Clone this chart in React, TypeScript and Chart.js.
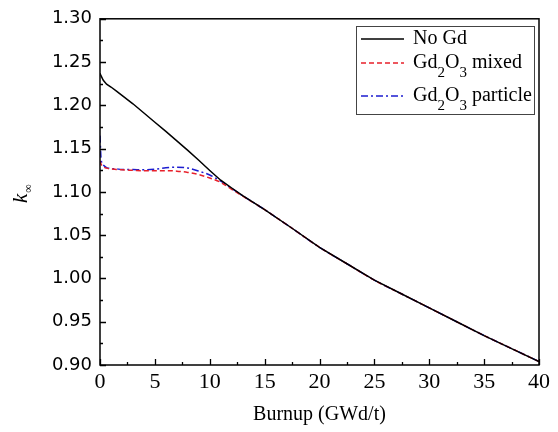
import React, { useEffect, useRef } from "react";
import { Chart, registerables } from "chart.js";

Chart.register(...registerables);

const burnup = [0, 0.1, 0.3, 0.6, 1, 1.5, 2, 3, 4, 5, 6, 7, 8, 9, 10, 11, 12, 13, 14, 15, 17.5, 20, 22.5, 25, 27.5, 30, 32.5, 35, 37.5, 40];
const noGd = [1.237, 1.234, 1.229, 1.2245, 1.2212, 1.2165, 1.2115, 1.2018, 1.1912, 1.1805, 1.17, 1.159, 1.148, 1.1365, 1.1248, 1.1135, 1.1045, 1.0958, 1.0877, 1.0796, 1.058, 1.036, 1.017, 0.998, 0.982, 0.966, 0.95, 0.934, 0.919, 0.904];
const gdMixed = [1.136, 1.132, 1.129, 1.1275, 1.1265, 1.126, 1.1255, 1.125, 1.1245, 1.1245, 1.1245, 1.124, 1.1225, 1.12, 1.116, 1.111, 1.103, 1.095, 1.0875, 1.0795, 1.058, 1.036, 1.017, 0.998, 0.982, 0.966, 0.95, 0.934, 0.919, 0.904];
const gdParticle = [1.165, 1.138, 1.131, 1.128, 1.127, 1.1265, 1.126, 1.1258, 1.1255, 1.1262, 1.1278, 1.1285, 1.1275, 1.124, 1.1195, 1.1125, 1.104, 1.0955, 1.0875, 1.0795, 1.058, 1.036, 1.017, 0.998, 0.982, 0.966, 0.95, 0.934, 0.919, 0.904];

const xTicksMajor = [0, 5, 10, 15, 20, 25, 30, 35, 40];
const yTicksMajor = [0.9, 0.95, 1.0, 1.05, 1.1, 1.15, 1.2, 1.25, 1.3];

const xTitle = "Burnup (GWd/t)";
const yTitleMain = "k";
const yTitleSub = "\u221E";

// legend entries: parts [text, isSubscript]
const legendItems: { parts: [string, boolean][]; color: string; dash: number[] }[] = [
  { parts: [["No Gd", false]], color: "#000000", dash: [] },
  { parts: [["Gd", false], ["2", true], ["O", false], ["3", true], [" mixed", false]], color: "#e8202a", dash: [5, 3] },
  { parts: [["Gd", false], ["2", true], ["O", false], ["3", true], [" particle", false]], color: "#1c1cd0", dash: [7, 3, 2, 3] },
];

const toPts = (ys: number[]) => burnup.map((x, i) => ({ x, y: ys[i] }));

const decorPlugin = {
  id: "decor",
  afterDraw(chart: any) {
    const { ctx, chartArea } = chart;
    const xs = chart.scales.x;
    const ys = chart.scales.y;
    const { left, right, top, bottom } = chartArea;
    ctx.save();
    // frame
    ctx.strokeStyle = "#000";
    ctx.lineWidth = 1.5;
    ctx.setLineDash([]);
    ctx.strokeRect(left, top, right - left, bottom - top);
    // ticks inward
    ctx.lineWidth = 1.3;
    ctx.beginPath();
    for (let v = 0; v <= 40.001; v += 2.5) {
      const px = Math.round(xs.getPixelForValue(v)) + 0.5;
      const major = Math.abs(v / 5 - Math.round(v / 5)) < 1e-6;
      const len = major ? 6 : 3;
      ctx.moveTo(px, bottom);
      ctx.lineTo(px, bottom - len);
    }
    for (let k = 0; k <= 16; k++) {
      const v = 0.9 + k * 0.025;
      const py = Math.round(ys.getPixelForValue(v)) + 0.5;
      const len = k % 2 === 0 ? 6 : 3;
      ctx.moveTo(left, py);
      ctx.lineTo(left + len, py);
    }
    ctx.stroke();

    // y title
    ctx.fillStyle = "#000";
    ctx.translate(27, 203);
    ctx.rotate(-Math.PI / 2);
    ctx.textBaseline = "alphabetic";
    ctx.textAlign = "left";
    ctx.font = "italic 21px 'Liberation Serif'";
    ctx.fillText(yTitleMain, 0, 0);
    const kw = ctx.measureText(yTitleMain).width;
    ctx.font = "12px 'Liberation Serif'";
    ctx.fillText(yTitleSub, kw + 1, 5);
    ctx.setTransform(1, 0, 0, 1, 0, 0);

    // legend
    const bx = 356.5, by = 26.5, bw = 178, bh = 88;
    ctx.fillStyle = "#fff";
    ctx.fillRect(bx, by, bw, bh);
    ctx.strokeStyle = "#444";
    ctx.lineWidth = 1;
    ctx.strokeRect(bx, by, bw, bh);
    const rowsY = [39, 63, 96];
    legendItems.forEach((item, i) => {
      const y = rowsY[i];
      ctx.strokeStyle = item.color;
      ctx.lineWidth = 1.5;
      ctx.setLineDash(item.dash);
      ctx.beginPath();
      ctx.moveTo(361, y);
      ctx.lineTo(404, y);
      ctx.stroke();
      ctx.setLineDash([]);
      let x = 413;
      ctx.fillStyle = "#000";
      ctx.textBaseline = "middle";
      ctx.textAlign = "left";
      item.parts.forEach(([t, sub]) => {
        ctx.font = sub ? "15px 'Liberation Serif'" : "20px 'Liberation Serif'";
        ctx.fillText(t, x, sub ? y + 10 : y);
        x += ctx.measureText(t).width;
      });
    });
    ctx.restore();
  },
};

export default function App() {
  const ref = useRef<HTMLCanvasElement | null>(null);
  useEffect(() => {
    document.body.style.margin = "0";
    const canvas = ref.current!;
    const chart = new Chart(canvas, {
      type: "line",
      data: {
        datasets: [
          { label: "No Gd", data: toPts(noGd), borderColor: "#000000", borderWidth: 1.5, pointRadius: 0, tension: 0, fill: false },
          { label: "Gd2O3 mixed", data: toPts(gdMixed), borderColor: "#e8202a", borderWidth: 1.5, borderDash: [5, 3], pointRadius: 0, cubicInterpolationMode: "monotone", fill: false },
          { label: "Gd2O3 particle", data: toPts(gdParticle), borderColor: "#1c1cd0", borderWidth: 1.5, borderDash: [7, 3, 2, 3], pointRadius: 0, cubicInterpolationMode: "monotone", fill: false },
        ],
      },
      options: {
        animation: false,
        responsive: false,
        devicePixelRatio: 1,
        layout: { padding: { left: 0, right: 19, top: 15, bottom: 0 } },
        plugins: { legend: { display: false }, tooltip: { enabled: false } },
        scales: {
          x: {
            type: "linear",
            min: 0,
            max: 40,
            grid: { display: false, drawTicks: false },
            border: { display: false },
            afterBuildTicks: (s: any) => { s.ticks = xTicksMajor.map((v) => ({ value: v })); },
            ticks: { color: "#000", padding: 4, font: { family: "'Liberation Serif'", size: 22 }, maxRotation: 0, callback: (v: any) => String(v) },
            title: { display: true, text: xTitle, color: "#000", font: { family: "'Liberation Serif'", size: 20 }, padding: { top: 0, bottom: 5 } },
            afterFit: (s: any) => { s.height = 67; },
          },
          y: {
            type: "linear",
            min: 0.9,
            max: 1.3,
            grid: { display: false, drawTicks: false },
            border: { display: false },
            afterBuildTicks: (s: any) => { s.ticks = yTicksMajor.map((v) => ({ value: v })); },
            ticks: { color: "#000", padding: 8, font: { family: "'DejaVu Sans'", size: 18 }, callback: (v: any) => Number(v).toFixed(2) },
            afterFit: (s: any) => { s.width = 100; },
          },
        },
      },
      plugins: [decorPlugin],
    } as any);
    return () => chart.destroy();
  }, []);
  return <canvas ref={ref} width={558} height={432} style={{ display: "block", width: 558, height: 432 }} />;
}
